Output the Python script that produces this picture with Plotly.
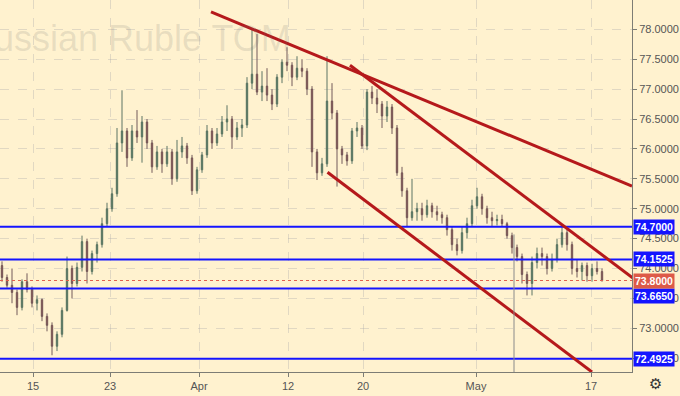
import plotly.graph_objects as go

# ---- candle data (bar index -> OHLC) ----
opens = [74.05, 73.85, 73.72, 73.6, 73.35, 73.78, 73.65, 73.42, 73.48, 73.2,
         73.05, 72.7, 72.9, 73.3, 74.0, 73.75, 74.02, 74.45, 73.95, 74.25,
         74.4, 74.75, 75.0, 75.25, 76.1, 76.3, 75.85, 76.3, 76.2, 76.45,
         76.1, 75.7, 75.95, 75.75, 75.95, 75.5, 75.95, 76.05, 75.85, 75.3,
         75.65, 75.9, 76.3, 76.1, 76.25, 76.45, 76.5, 76.2, 76.35, 76.4,
         77.1, 77.25, 76.95, 77.05, 76.9, 76.75, 77.2, 77.45, 77.4, 77.2,
         77.35, 77.3, 77.0, 75.95, 75.6, 75.75, 76.8, 76.6, 76.0, 75.9,
         75.8, 76.3, 76.35, 76.05, 76.95, 76.85, 76.75, 76.55, 76.7, 76.35,
         75.6, 75.3, 74.85, 74.95, 75.0, 74.9, 75.05, 74.95, 74.9, 74.85,
         74.65, 74.4, 74.3, 74.6, 74.75, 75.05, 75.2, 75.0, 74.85, 74.8,
         74.82, 74.75, 74.55, 74.35, 74.2, 73.9, 73.75, 74.1, 74.25, 74.2,
         74.0, 74.15, 74.4, 74.6, 74.4, 74.0, 73.95, 74.05, 73.88, 74.0,
         73.95]
highs = [74.12, 73.9, 74.0, 73.65, 73.82, 73.92, 73.7, 73.55, 73.5, 73.25,
         73.1, 72.95, 73.35, 74.2, 74.05, 74.1, 74.55, 74.5, 74.3, 74.45,
         74.85, 75.1, 75.35, 76.35, 76.98, 76.35, 76.4, 76.65, 76.55, 76.5,
         76.15, 76.05, 76.0, 76.05, 76.0, 76.15, 76.2, 76.1, 75.9, 75.7,
         75.95, 76.4, 76.35, 76.35, 76.55, 76.73, 76.55, 76.45, 76.5, 77.2,
         77.99, 77.92, 77.3, 77.35, 77.0, 77.25, 77.5, 77.7, 77.45, 77.55,
         77.5, 77.35, 77.05, 76.0, 75.85, 77.55, 77.1, 76.65, 76.05, 75.95,
         76.35, 76.45, 76.4, 77.0, 77.05, 77.0, 76.8, 76.8, 76.75, 76.4,
         75.7, 75.35, 75.5, 75.1, 75.1, 75.15, 75.1, 75.05, 74.95, 74.9,
         74.7, 74.5, 74.7, 74.85, 75.15, 75.35, 75.25, 75.05, 74.95, 74.9,
         74.9, 74.78, 74.6, 74.4, 74.25, 73.95, 74.2, 74.35, 74.35, 74.25,
         74.25, 74.5, 74.73, 74.65, 74.45, 74.15, 74.1, 74.1, 74.08, 74.12,
         74.0]
lows = [73.78, 73.68, 73.42, 73.22, 73.3, 73.6, 73.35, 73.3, 73.12, 72.95,
        72.55, 72.62, 72.85, 73.28, 73.5, 73.7, 73.95, 73.75, 73.9, 74.1,
        74.35, 74.7, 74.95, 75.2, 75.95, 75.7, 75.8, 76.1, 75.77, 76.0,
        75.6, 75.65, 75.6, 75.7, 75.4, 75.45, 75.85, 75.75, 75.23, 75.25,
        75.6, 75.85, 76.0, 76.05, 76.2, 76.3, 76.0, 76.15, 76.2, 76.35,
        77.0, 76.9, 76.8, 76.8, 76.65, 76.7, 77.1, 77.3, 77.05, 77.15,
        77.2, 76.9, 75.7, 75.48, 75.55, 75.7, 76.5, 75.37, 75.75, 75.72,
        75.75, 76.2, 76.0, 75.98, 76.75, 76.6, 76.35, 76.45, 76.25, 75.55,
        75.2, 74.7, 74.8, 74.8, 74.8, 74.85, 74.85, 74.8, 74.75, 74.55,
        74.3, 74.22, 74.25, 74.5, 74.7, 75.0, 74.9, 74.75, 74.7, 74.72,
        74.7, 74.5, 74.25, 74.12, 73.75, 73.55, 73.55, 74.0, 74.05, 73.9,
        73.95, 74.1, 74.35, 74.3, 73.9, 73.85, 73.8, 73.78, 73.78, 73.9,
        73.78]
closes = [73.85, 73.72, 73.6, 73.35, 73.78, 73.65, 73.42, 73.48, 73.2, 73.05,
          72.7, 72.9, 73.3, 74.0, 73.75, 74.02, 74.45, 73.95, 74.25, 74.4,
          74.75, 75.0, 75.25, 76.1, 76.3, 75.85, 76.3, 76.2, 76.45, 76.1,
          75.7, 75.95, 75.75, 75.95, 75.5, 75.95, 76.05, 75.85, 75.3, 75.65,
          75.9, 76.3, 76.1, 76.25, 76.45, 76.5, 76.2, 76.35, 76.4, 77.1,
          77.25, 76.95, 77.05, 76.9, 76.75, 77.2, 77.45, 77.4, 77.2, 77.35,
          77.3, 77.0, 75.95, 75.6, 75.75, 76.8, 76.6, 76.0, 75.9, 75.8,
          76.3, 76.35, 76.05, 76.95, 76.85, 76.75, 76.55, 76.7, 76.35, 75.6,
          75.3, 74.85, 74.95, 75.0, 74.9, 75.05, 74.95, 74.9, 74.85, 74.65,
          74.4, 74.3, 74.6, 74.75, 75.05, 75.2, 75.0, 74.85, 74.8, 74.82,
          74.75, 74.55, 74.35, 74.2, 73.9, 73.75, 74.1, 74.25, 74.2, 74.0,
          74.15, 74.4, 74.6, 74.4, 74.0, 73.95, 74.05, 73.88, 74.0, 73.95,
          73.8]
bars = list(range(len(closes)))

# ---- x tick labels (bar-index positions) ----
tick_pos = [6.2, 21.6, 39.4, 57.2, 72.2, 94.8, 117.8]
tick_text = ["15", "23", "Apr", "12", "20", "May", "17"]

# ---- drawn levels / trend lines ----
levels = [74.7, 74.1525, 73.665, 72.4925]
last_price = 73.80
trend_upper = [(41.8, 78.29), (126.0, 75.38)]
trend_mid = [(69.6, 77.40), (126.2, 73.84)]
trend_low = [(65.1, 75.61), (118.0, 72.27)]
vline_bar = 102.4
vline_top = 74.57

x_range = [-0.4, 126.0]
y_range = [72.27, 78.49]

BG = "#fff2cf"
RED = "#b5191b"
BLUE = "#1414ff"
FONT = "Liberation Sans"

fig = go.Figure()
fig.add_trace(go.Candlestick(
    x=bars, open=opens, high=highs, low=lows, close=closes,
    increasing=dict(fillcolor="#2e6b45", line=dict(color="#5d7564", width=1)),
    decreasing=dict(fillcolor="#8b2a2a", line=dict(color="#735a5a", width=1)),
    whiskerwidth=0, showlegend=False, hoverinfo="skip",
))

shapes = []
for lv in levels:
    shapes.append(dict(type="line", xref="paper", x0=0, x1=1, yref="y", y0=lv, y1=lv,
                       line=dict(color=BLUE, width=2), layer="above"))
shapes.append(dict(type="line", xref="paper", x0=0, x1=1, yref="y", y0=last_price, y1=last_price,
                   line=dict(color="#e0604f", width=1, dash="dot"), layer="above"))
for tl in (trend_upper, trend_mid, trend_low):
    shapes.append(dict(type="line", xref="x", yref="y", x0=tl[0][0], y0=tl[0][1],
                       x1=tl[1][0], y1=tl[1][1], line=dict(color=RED, width=3), layer="above"))
shapes.append(dict(type="line", xref="x", yref="y", x0=vline_bar, x1=vline_bar,
                   y0=vline_top, y1=y_range[0], line=dict(color="#8a8a8a", width=1), layer="above"))

annotations = [dict(
    text="Russian Ruble TOM", xref="paper", yref="paper", x=293 / 632, y=1 - 38 / 372,
    xanchor="right", yanchor="middle", showarrow=False,
    font=dict(family=FONT, size=36, color="rgba(110,110,110,0.16)"),
)]
for lv in levels:
    # the 73.6650 tag is pushed down so that it does not sit under the last-price tag
    shift = -7 if lv == 73.665 else 0
    annotations.append(dict(
        text="<b>%.4f</b>" % lv, xref="paper", yref="y", x=1, y=lv, xanchor="left",
        yanchor="middle", showarrow=False, bgcolor=BLUE, borderpad=1, xshift=1, yshift=shift,
        font=dict(family=FONT, size=10.5, color="white")))
annotations.append(dict(
    text="<b>%.4f</b>" % last_price, xref="paper", yref="y", x=1, y=last_price, xanchor="left",
    yanchor="middle", showarrow=False, bgcolor="#dd5a48", borderpad=1, xshift=1,
    font=dict(family=FONT, size=10.5, color="white")))
annotations.append(dict(
    text="⚙", xref="paper", yref="paper", x=655 / 632, y=-12 / 372, xanchor="center",
    yanchor="middle", showarrow=False, font=dict(family="DejaVu Sans", size=15, color="#333")))

axis_common = dict(showgrid=True, gridcolor="rgba(170,170,170,0.35)", griddash="dash", gridwidth=1,
                   showline=True, linecolor="#7d7d75", linewidth=1, ticks="outside", ticklen=4,
                   tickcolor="#7d7d75", zeroline=False,
                   tickfont=dict(family=FONT, size=11, color="#555"))

fig.update_layout(
    width=680, height=396, margin=dict(l=0, r=48, t=0, b=24),
    paper_bgcolor=BG, plot_bgcolor=BG, boxgap=0.6,
    shapes=shapes, annotations=annotations,
    xaxis=dict(range=x_range, rangeslider=dict(visible=False), tickvals=tick_pos,
               ticktext=tick_text, **axis_common),
    yaxis=dict(range=y_range, side="right", dtick=0.5, tick0=72.5, tickformat=".4f",
               **axis_common),
)

fig.write_html("out.html", config={"displayModeBar": False},
               post_script="document.body.style.margin='0';document.body.style.padding='0';"
                           "document.body.style.background='" + BG + "';")
